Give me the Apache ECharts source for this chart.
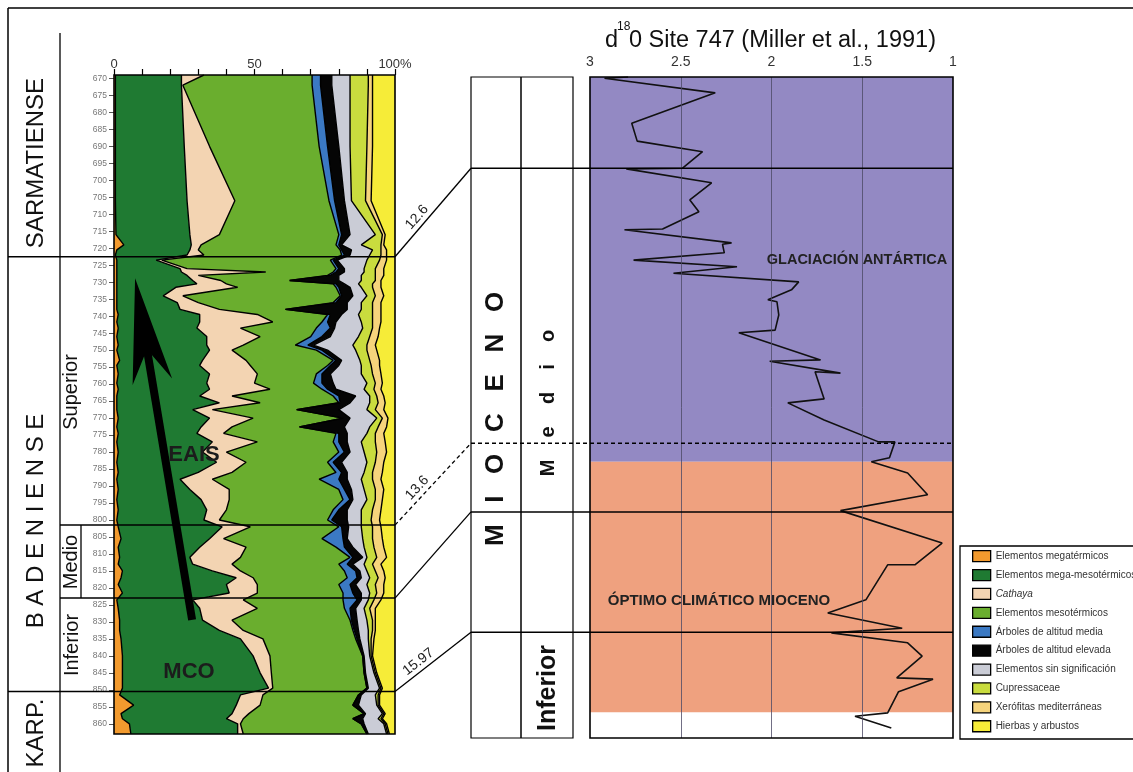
<!DOCTYPE html>
<html><head><meta charset="utf-8">
<script src="https://cdn.jsdelivr.net/npm/echarts@6/dist/echarts.min.js"></script>
<style>html,body{margin:0;padding:0;background:#fff}#c{width:1133px;height:772px}</style>
</head><body><div id="c"></div>
<script>
// ---------- Pollen diagram (left) : depth samples and % of each group ----------
const depths = [669,672,690,706,716,719,720.5,722,
  723.5,726,727,728,729.5,730.5,731.5,734,736,738,
  739.5,741.7,743.5,746,748.5,750,753,754.5,757,759.7,
  761.5,763.5,765.5,767.5,770,772.6,774.5,777,780,783,
  786,788,791,794,797,800,
  802,805.5,808,811,813,815,817,819,821.5,
  823.5,826,829.5,832.5,835,840,845,849.5,
  851.5,854.5,857,858.5,860,863];
const megatermicos = [.5,.5,.5,.5,.7,3.5,1,.5,
  1,1,1,1,1,1,1,1,1,1,
  1.5,1,1.5,1,1.5,1,2,1,1.5,1,
  1.5,1,1,1,1.5,1,1.5,1,1.5,1,
  1.5,1,1.5,1,1.5,1,
  1.5,2.5,1.5,2,1.5,3,2.5,1.5,3,
  1,1.5,2,2,2.5,3,3,3,
  2,7,2.5,3,5.5,6];
const megaMesotermicos = [23.5,23.5,24.5,25.5,26.3,24,26,25.5,
  14,22.5,23,25,27,28.5,21,16.5,21.5,22.5,
  29,29.5,28,32,31.5,33,29.5,29.5,32.5,32,
  32.5,29.5,36.5,27,32.5,30,28,34,30,35.5,
  28.5,22.5,25.5,30,31.5,31,
  37,31.5,29,25,26.5,32,41,38.5,38,
  27,29,29.5,35.5,42.5,46.5,49,52,
  43,36.5,39.5,37,38.5,38];
const cathaya = [8,.5,9,17,10.5,3.5,3,6,
  2,2.5,30,4,10,10.5,22,7,7.5,14,
  20.5,26,15.5,19,13,8,15.5,18,17,17,
  21.5,11.5,14.5,7,15.5,11,9.5,16,8.5,10.5,
  12,11.5,14,10,7,5.5,
  10,5,16.5,18,14,10,6,11,10,
  18,20.5,10.5,8.5,8,6,4,1.5,
  8,8.5,6,6,1,2];
const mesotermicos = [38.5,46,39,33.5,42.5,48,50.5,49,
  60,53,24,46,24.5,38,35,56,48,23.5,
  25,17.5,27,18,18.5,30,31,27.5,21,21,
  18.5,36,28,30,32,24,40,27,40,29,
  37,38,39,40.5,38,38.5,
  31.5,35,32,39,38,37,33.5,29,30.5,
  35.5,31,42,39,33,33,33,33.5,
  34,33,41,39,43,44];
const altitudMedia = [3,3,3,2,1,1,.5,1,
  1,1,1,1,0,1,1,.5,1,0,
  1,2,5,4,4.5,2,1,1,2,3,
  2,2,.5,0,0,0,1,2,2,2,
  2,7,2,2.5,2,1.5,
  1,7.5,3,1,3,4,3.5,4,3.5,
  5,2,.5,.5,.5,0,0,0,
  0,0,0,0,0,0];
const altitudElevada = [4,4,4,3.5,3,1,3.5,2,
  1.5,2,3,3,17.5,3,4,4,4,22,
  4,3,1.5,3,2,2,2,3,3,4,
  3,6,3.5,15,2.5,16,3,3,2,3,
  2,3,2.5,1,3,5.5,
  2.5,1.5,3,3.5,2,1.5,1.5,2,3,
  1.5,2,2,1.5,1,.5,.5,.5,
  1,2,.5,3.5,1,.5];
const sinSignificacion = [6.5,6.5,4,2.5,9,7,7.5,7,
  10.5,7,7,8,8,5,4,5,5,5,
  6,9,10,10,14,10,6.5,8,11,12,
  10,5,7,10,9.5,9,7,5,5,9,
  6,5,4.5,5,5,5,
  4.5,5.5,4,1.5,4,2.5,3,4,3,
  2.5,3,3.5,3.5,3,2,3,4,
  5,6.5,6,5.5,7,6.5];
const cupressaceae = [6.5,6.5,6,5,2.5,7,3,4,
  4.5,4,4,5,5,5,4,3,4,4,
  5,4,3.5,4,5,4,3.5,3.5,4,3,
  3.5,2.5,3,3,2,3,3,5,4.5,3,
  3,4,4,3,4,3.5,
  4,3.5,3.5,3.5,3,3,3,3,2.5,
  2,2,2,1.5,1,.5,.5,.5,
  1,.5,.5,1,.5,.5];
const xerofitas = [1.5,1.5,2,2,1,1,2,2,
  2.5,3,3,3,2,3,3,3,3,3,
  3,3,2.5,3,3,3.5,3.5,3,3,2.5,
  2.5,2.5,2.5,3,2,3,3,3.5,3.5,3,
  3.5,3,3,2.5,3,3,
  3,3.5,3.5,3.5,3,3,2.5,3,2.5,
  2.5,2,1,1,1,.5,.5,.5,
  .5,.5,.5,.5,.5,.5];
const hierbas = [8,8,8,8.5,3.5,4,3,3,
  3,4,4,4,5,5,5,4,5,5,
  5,5,5.5,6,7,6.5,5.5,5.5,5,4.5,
  5,4,3.5,4,2.5,3,4,3.5,3,4,
  4.5,5,4,4.5,5,5.5,
  5,4.5,4,3,5,4,3.5,4,4,
  5,7,7,7,7.5,8,6.5,4.5,
  5.5,5.5,3.5,4.5,3,2];

const groupNames = ['Elementos megatérmicos','Elementos mega-mesotérmicos','Cathaya','Elementos mesotérmicos',
  'Árboles de altitud media','Árboles de altitud elevada','Elementos sin significación','Cupressaceae',
  'Xerófitas mediterráneas','Hierbas y arbustos'];
const groupValues = [megatermicos,megaMesotermicos,cathaya,mesotermicos,altitudMedia,altitudElevada,
  sinSignificacion,cupressaceae,xerofitas,hierbas];
const groupColors = ['#F29A2E','#1F7A32','#F3D4B2','#6AAE2E','#3B79C3','#050505','#CACCD6','#C9DC3E','#F6D47C','#F6EC38'];

const depthTicks = [];
for (let d = 670; d <= 860; d += 5) depthTicks.push(d);
const pctLabels = {0:'0', 50:'50', 100:'100%'};

// ---------- d18O Site 747 (right) ----------
const d18O = [2.79,2.92,2.31,2.77,2.74,2.38,2.49,2.80,2.33,2.45,2.40,2.60,2.81,2.22,2.27,2.26,2.76,2.19,2.54,1.85,
  1.89,2.02,1.97,1.96,1.98,2.18,1.73,2.01,1.62,1.76,1.71,1.91,1.71,1.41,1.32,1.35,1.45,1.25,1.14,1.62,
  1.06,1.21,1.36,1.48,1.69,1.28,1.67,1.25,1.17,1.31,1.11,1.30,1.36,1.54,1.34];
const d18OPos = [0,0.2,2.4,7.0,9.7,11.3,13.8,13.9,16.0,18.6,20.4,23.0,23.1,25.1,25.3,26.6,27.7,28.7,29.7,31.0,
  32.2,33.7,34.0,36.0,38.3,38.7,42.8,43.0,44.8,44.6,48.7,49.3,51.9,55.2,55.2,57.6,58.2,59.9,63.2,65.6,
  70.5,73.8,73.8,79.1,81.1,83.4,84.1,85.6,87.6,90.9,91.1,93.0,96.2,96.7,98.5];
const zoneNames = ['GLACIACIÓN ANTÁRTICA','ÓPTIMO CLIMÁTICO MIOCENO'];
const zoneStart = [0, 58.2];
const zoneEnd = [58.2, 96.1];
const zoneColors = ['#9389C3','#EFA17F'];
const d18OTicks = [1, 1.5, 2, 2.5, 3];

// ---------- correlation boundaries ----------
const leftBoundaries = [722.5, 801.5, 823, 850.5];
const rightBoundaries = [13.8, 55.4, 65.8, 84.0];
const boundaryAges = ['12.6', '13.6', '', '15.97'];
const boundaryDashed = [false, true, false, false];

// cumulative
const cum = [];
groupValues.forEach((arr, k) => {
  cum.push(arr.map((v, i) => (k ? cum[k-1][i] : 0) + v));
});

const series = [];
groupNames.forEach((name, k) => {
  const lo = k ? cum[k-1] : depths.map(() => 0);
  const hi = cum[k];
  const color = groupColors[k];
  series.push({
    type: 'custom', name, xAxisIndex: 0, yAxisIndex: 0, silent: true, clip: true, z: 2,
    itemStyle: { color },
    data: depths.map((d, i) => [lo[i], hi[i], d]),
    encode: { x: [0, 1], y: 2 },
    renderItem: (params, api) => {
      if (params.dataIndex !== 0) return null;
      const right = depths.map((d, i) => api.coord([hi[i], d]));
      const left = depths.map((d, i) => api.coord([lo[i], d])).reverse();
      return { type: 'polygon', shape: { points: right.concat(left) }, style: { fill: color } };
    }
  });
});
for (let k = 0; k < groupNames.length - 1; k++) {
  series.push({
    type: 'line', xAxisIndex: 0, yAxisIndex: 0, silent: true, z: 3, symbol: 'none',
    lineStyle: { color: '#000', width: 1.4 },
    data: cum[k].map((v, i) => [v, depths[i]])
  });
}
series.push({
  type: 'line', name: 'd18O', xAxisIndex: 1, yAxisIndex: 1, silent: true, z: 3, symbol: 'none',
  lineStyle: { color: '#111', width: 1.6 },
  data: d18O.map((v, i) => [v, d18OPos[i]]),
  markArea: {
    silent: true,
    data: zoneNames.map((nm, i) => [{ yAxis: zoneStart[i], itemStyle: { color: zoneColors[i], opacity: 1 } }, { yAxis: zoneEnd[i] }])
  },
  markLine: {
    silent: true, symbol: ['none','none'], label: { show: false },
    lineStyle: { color: '#4d4a66', width: 0.8, type: 'solid' },
    data: d18OTicks.filter(v => v > 1 && v < 3).map(v => ({ xAxis: v }))
  }
});

const FONT = 'Liberation Sans, Arial, sans-serif';
const option = {
  animation: false,
  backgroundColor: '#fff',
  grid: [
    { left: 114, top: 75, width: 281, height: 659 },
    { left: 590, top: 77, width: 363, height: 661 }
  ],
  xAxis: [
    { gridIndex: 0, type: 'value', min: 0, max: 100, interval: 10, position: 'top',
      axisLine: { show: false }, splitLine: { show: false },
      axisTick: { show: true, length: 6, lineStyle: { color: '#000', width: 1.2 } },
      axisLabel: { margin: 4, fontSize: 13, color: '#333', fontFamily: FONT,
        formatter: v => (pctLabels[v] !== undefined ? pctLabels[v] : '') } },
    { gridIndex: 1, type: 'value', min: 1, max: 3, interval: 0.5, inverse: true, position: 'top',
      axisLine: { show: false }, axisTick: { show: false }, splitLine: { show: false },
      axisLabel: { margin: 8, fontSize: 14, color: '#333', fontFamily: FONT } }
  ],
  yAxis: [
    { gridIndex: 0, type: 'value', min: 669, max: 863, inverse: true,
      axisLine: { show: false }, splitLine: { show: false },
      axisTick: { show: true, customValues: depthTicks, length: 5, lineStyle: { color: '#555', width: 1 } },
      axisLabel: { customValues: depthTicks, fontSize: 8.5, color: '#777', margin: 7, fontFamily: FONT } },
    { gridIndex: 1, type: 'value', min: 0, max: 100, inverse: true, show: false }
  ],
  legend: {
    data: groupNames, orient: 'vertical', left: 967, top: 545, itemWidth: 18, itemHeight: 11, itemGap: 6.6,
    icon: 'rect', selectedMode: false,
    itemStyle: { borderColor: '#000', borderWidth: 1.3 },
    formatter: nm => (nm === 'Cathaya' ? '{i|Cathaya}' : nm),
    textStyle: { fontSize: 10, color: '#333', fontFamily: FONT, lineHeight: 12,
      rich: { i: { fontStyle: 'italic', fontSize: 10, color: '#333', fontFamily: FONT } } }
  },
  series
};

const chart = echarts.init(document.getElementById('c'));
chart.setOption(option);

const P0 = (x, y) => chart.convertToPixel({ gridIndex: 0 }, [x, y]);
const P1 = (x, y) => chart.convertToPixel({ gridIndex: 1 }, [x, y]);
const G = [];
function line(x1, y1, x2, y2, w, dash) {
  G.push({ type: 'line', silent: true, z: 100, shape: { x1, y1, x2, y2 },
    style: { stroke: '#000', lineWidth: w || 1.5, lineDash: dash || null } });
}
function rect(x, y, w, h, lw) {
  G.push({ type: 'rect', silent: true, z: 100, shape: { x, y, width: w, height: h },
    style: { fill: 'none', stroke: '#000', lineWidth: lw || 1.5 } });
}
function text(t, x, y, o) {
  o = o || {};
  G.push({ type: 'text', silent: true, z: 101, x, y, rotation: o.rot || 0,
    style: { text: t, fill: o.color || '#111', fontSize: o.size || 14, fontWeight: o.weight || 'normal',
      fontFamily: FONT, align: o.align || 'center', verticalAlign: 'middle',
      textAlign: o.align || 'center', textVerticalAlign: 'middle' } });
}

// outer frame & label column
line(8, 8, 1133, 8, 1.5);
line(8, 8, 8, 772, 1.5);
line(60, 33, 60, 772, 1.3);

// plot frames
const a0 = P0(0, 669), b0 = P0(100, 863);
rect(a0[0], a0[1], b0[0] - a0[0], b0[1] - a0[1], 1.6);
const a1 = P1(3, 0), b1 = P1(1, 100);
rect(a1[0], a1[1], b1[0] - a1[0], b1[1] - a1[1], 1.6);

// middle stratigraphic column
const midL = 471, midR = 573, midC = 521;
rect(midL, a1[1], midR - midL, b1[1] - a1[1], 1.2);
line(midC, a1[1], midC, b1[1], 1.5);

// boundaries and correlation lines
leftBoundaries.forEach((d, i) => {
  const pL = P0(100, d);
  const pR = P1(1, rightBoundaries[i]);
  const dash = boundaryDashed[i] ? [4, 3] : null;
  const startX = (i === 0 || i === 3) ? 8 : 60;
  line(startX, pL[1], pL[0], pL[1], 1.5);
  line(pL[0], pL[1], midL, pR[1], 1.3, dash);
  line(midL, pR[1], pR[0], pR[1], 1.6, dash);
  if (boundaryAges[i]) {
    const dx = midL - pL[0], dy = pR[1] - pL[1];
    const ang = Math.atan2(-dy, dx);
    const len = Math.hypot(dx, dy);
    const nx = dy / len, ny = -dx / len;
    const s = nx < 0 ? 1 : -1;
    const mx = pL[0] + dx * 0.38, my = pL[1] + dy * 0.38;
    text(boundaryAges[i], mx + nx * 9 * s, my + ny * 9 * s, { rot: ang, size: 14, color: '#222' });
  }
});
// Medio box
const yM1 = P0(0, leftBoundaries[1])[1], yM2 = P0(0, leftBoundaries[2])[1];
line(81, yM1, 81, yM2, 1.3);

// stage labels
const R = Math.PI / 2;
text('SARMATIENSE', 36, 163, { rot: R, size: 24 });
text('B A D E N I E N S E', 36, 521, { rot: R, size: 24 });
text('KARP.', 36, 733, { rot: R, size: 24 });
text('Superior', 71, 392, { rot: R, size: 20 });
text('Medio', 71, 562, { rot: R, size: 20 });
text('Inferior', 72, 645, { rot: R, size: 20 });
text('M   I   O   C   E   N   O', 496, 419, { rot: R, size: 26, weight: 'bold' });
text('M    e    d    i    o', 548, 403, { rot: R, size: 20, weight: 'bold' });
text('Inferior', 548, 688, { rot: R, size: 25, weight: 'bold' });

// title
text('d', 605, 41, { size: 23.5, align: 'left' });
text('18', 617, 27, { size: 12, align: 'left' });
text('0 Site 747 (Miller et al., 1991)', 629, 41, { size: 23.5, align: 'left' });

// zone labels
text(zoneNames[0], 857, 260, { size: 14.5, weight: 'bold', color: '#222' });
text(zoneNames[1], 719, 601, { size: 15, weight: 'bold', color: '#222' });

// EAIS arrow
const tip = P0(7.5, 728.8), tail = P0(27.8, 829.4);
const ddx = tail[0] - tip[0], ddy = tail[1] - tip[1], dl = Math.hypot(ddx, ddy);
const ux = ddx / dl, uy = ddy / dl, px = uy, py = -ux;
const headL = 105, headW = 20, notch = 72;
G.push({ type: 'polygon', silent: true, z: 99, shape: { points: [
  tip,
  [tip[0] + ux * headL + px * headW, tip[1] + uy * headL + py * headW],
  [tip[0] + ux * notch, tip[1] + uy * notch],
  [tip[0] + ux * headL - px * headW, tip[1] + uy * headL - py * headW]
] }, style: { fill: '#000' } });
G.push({ type: 'line', silent: true, z: 99, shape: { x1: tip[0] + ux * (notch - 5), y1: tip[1] + uy * (notch - 5), x2: tail[0], y2: tail[1] },
  style: { stroke: '#000', lineWidth: 8 } });
text('EAIS', 194, 455, { size: 22, weight: 'bold', color: '#1c1c1c' });
text('MCO', 189, 672, { size: 22, weight: 'bold', color: '#1c1c1c' });

// legend frame
rect(960, 546, 180, 193, 1.3);

chart.setOption({ graphic: G });
</script></body></html>
